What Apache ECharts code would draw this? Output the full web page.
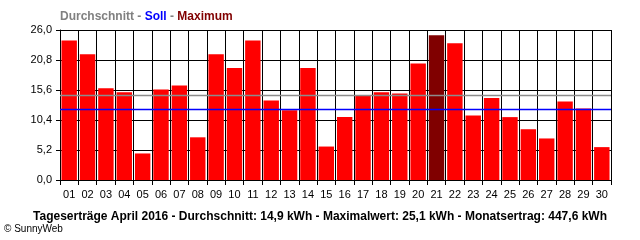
<!DOCTYPE html>
<html><head><meta charset="utf-8">
<script src="https://cdn.jsdelivr.net/npm/echarts@6/dist/echarts.min.js"></script>
<style>html,body{margin:0;padding:0;background:#fff}#c{width:640px;height:240px}</style>
</head><body><div id="c"></div>
<script>
var days = ['01','02','03','04','05','06','07','08','09','10','11','12','13','14','15','16','17','18','19','20','21','22','23','24','25','26','27','28','29','30'];
var yields = [24.2,21.8,15.9,15.2,4.6,15.7,16.4,7.4,21.8,19.4,24.2,13.8,12.1,19.4,5.8,10.9,14.7,15.2,15.0,20.2,25.1,23.7,11.2,14.2,10.9,8.8,7.2,13.6,12.4,5.7];
var average = 14.65;
var target = 12.22;
var maxIndex = 20;
var titleText = 'Tageserträge April 2016 - Durchschnitt: 14,9 kWh - Maximalwert: 25,1 kWh - Monatsertrag: 447,6 kWh';

var chart = echarts.init(document.getElementById('c'), null, {renderer:'canvas'});
var font = 'Liberation Sans, Arial, sans-serif';
chart.setOption({
  animation:false,
  backgroundColor:'#fff',
  graphic:[
    {type:'text', left:60, top:11, style:{rich:{g:{fill:'#808080',font:'bold 12px '+font},b:{fill:'#0000ff',font:'bold 12px '+font},r:{fill:'#800000',font:'bold 12px '+font}}, text:'{g|Durchschnitt - }{b|Soll}{g| - }{r|Maximum}'}},
    {type:'text', left:'center', top:211, style:{text:titleText, fill:'#000', font:'bold 12px '+font}},
    {type:'text', left:4, top:224, style:{text:'© SunnyWeb', fill:'#000', font:'10px '+font}}
  ],
  grid:{left:60, top:30, width:551, height:150},
  xAxis:[{type:'category', data:days, boundaryGap:true,
    axisLine:{lineStyle:{color:'#000',width:1}},
    axisTick:{show:true, interval:0, length:5, lineStyle:{color:'#000'}},
    axisLabel:{interval:0, color:'#000', fontFamily:font, fontSize:11, margin:9},
    splitLine:{show:true, interval:0, lineStyle:{color:'#000',width:1}}},
    {type:'value', min:0, max:1, show:false}],
  yAxis:{type:'value', min:0, max:26, interval:5.2,
    axisLine:{show:true, lineStyle:{color:'#000'}},
    axisTick:{show:true, length:4, lineStyle:{color:'#000'}},
    axisLabel:{color:'#000', fontFamily:font, fontSize:11, margin:8, formatter:function(v){return v.toFixed(1).replace('.',',');}},
    splitLine:{show:true, lineStyle:{color:'#000',width:1}}},
  series:[
    {type:'bar', barCategoryGap:'16%',
      data:yields.map(function(v,i){return {value:v, itemStyle:{color:i===maxIndex?'#800000':'#ff0000'}};})},
    {type:'line', xAxisIndex:1, showSymbol:false, silent:true, z:10, data:[[0,average],[1,average]],
      lineStyle:{color:'#8c8c8c',width:1.5}, itemStyle:{color:'#8c8c8c'}},
    {type:'line', xAxisIndex:1, showSymbol:false, silent:true, z:11, data:[[0,target],[1,target]],
      lineStyle:{color:'#0000ff',width:1.5}, itemStyle:{color:'#0000ff'}}
  ]
});
</script></body></html>
